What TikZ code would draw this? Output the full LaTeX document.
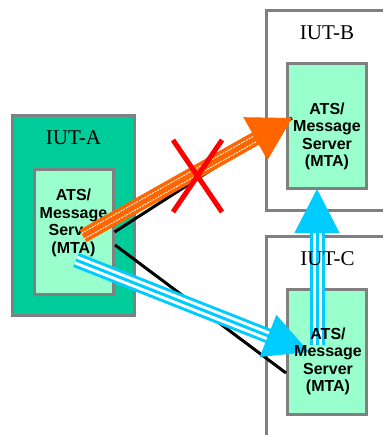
\documentclass[tikz,border=0pt]{standalone}
\usepackage{fontspec}
\setmainfont{Liberation Serif}
\setsansfont{Liberation Sans}
\usetikzlibrary{arrows.meta}

\definecolor{iutgreen}{RGB}{0,204,153}
\definecolor{mtagreen}{RGB}{153,255,204}
\definecolor{boxgray}{RGB}{128,128,128}
\definecolor{sendorange}{RGB}{255,102,0}
\definecolor{sendblue}{RGB}{0,204,255}

\tikzset{
	iut/.style = {draw = boxgray, line width = 3pt, inner sep = 0pt},
	mta/.style = {draw = boxgray, line width = 3pt, fill = mtagreen, inner sep = 0pt,
		minimum width = 79pt, minimum height = 125pt},
	iutlabel/.style = {font = \fontsize{21}{23}\selectfont, inner sep = 0pt},
	mtalabel/.style = {font = \sffamily\bfseries\fontsize{16}{17.5}\selectfont,
		align = center, inner sep = 0pt},
	link/.style = {black, line width = 3pt},
	cross/.style = {red, line width = 5pt}
}

\begin{document}
\begin{tikzpicture}[x = 1pt, y = -1pt]
	\useasboundingbox (0, 0) rectangle (382, 435);

	% systems under test
	\node[iut, fill = iutgreen, minimum width = 122pt, minimum height = 200pt] (iuta) at (73.5, 215.5) {};
	\node[iut, minimum width = 140pt, minimum height = 200pt] (iutb) at (336.5, 110.5) {};
	\node[iut, minimum width = 140pt, minimum height = 230pt] (iutc) at (336.5, 351.5) {};
	\node[mta] (mtaa) at (73.5, 232) {};
	\node[mta] (mtab) at (327, 126.5) {};
	\node[mta] (mtac) at (327, 351.5) {};

	\node[iutlabel] (laba) at (73.5, 138) {IUT-A};
	\node[mtalabel] (texta) at (73.5, 223) {ATS/\\Message\\Server\\(MTA)};

	% end points
	\coordinate (ka) at (115, 245);
	\coordinate (kc) at (286, 373);
	\coordinate (oa) at (83, 236);
	\coordinate (ob) at (292, 118);
	\coordinate (ca) at (76, 260);
	\coordinate (cb) at (309, 352);
	\coordinate (cc) at (317, 345);
	\coordinate (cd) at (317, 189);

	\draw[link] (mtaa.east) -- (ob);
	\draw[link] (ka) -- (kc);

	% A to B, blocked
	\draw[sendorange, line width = 14pt, shorten > = 40pt] (oa) -- (ob);
	\draw[white, line width = 7pt, dash pattern = on 2pt off 1pt, shorten > = 40pt] (oa) -- (ob);
	\draw[sendorange, line width = 5pt, shorten > = 40pt] (oa) -- (ob);
	\draw[sendorange, line width = 1pt, -{Triangle[width = 49pt, length = 42pt]}] (oa) -- (ob);

	% A to C and C to B
	\foreach \s/\e in {ca/cb, cc/cd} {
		\draw[sendblue, line width = 15pt, shorten > = 40pt] (\s) -- (\e);
		\draw[white, line width = 9pt, shorten > = 40pt] (\s) -- (\e);
		\draw[sendblue, line width = 3pt, shorten > = 40pt] (\s) -- (\e);
		\draw[sendblue, line width = 1pt, -{Triangle[width = 45pt, length = 44pt]}] (\s) -- (\e);
	}

	\draw[cross] (173, 140) -- (222, 212);
	\draw[cross] (222, 140) -- (173, 212);

	\node[iutlabel] (labb) at (327, 32.5) {IUT-B};
	\node[iutlabel] (labc) at (327.5, 259) {IUT-C};
	\node[mtalabel] (textb) at (327, 136.5) {ATS/\\Message\\Server\\(MTA)};
	\node[mtalabel] (textc) at (328, 361.5) {ATS/\\Message\\Server\\(MTA)};
\end{tikzpicture}
\end{document}
